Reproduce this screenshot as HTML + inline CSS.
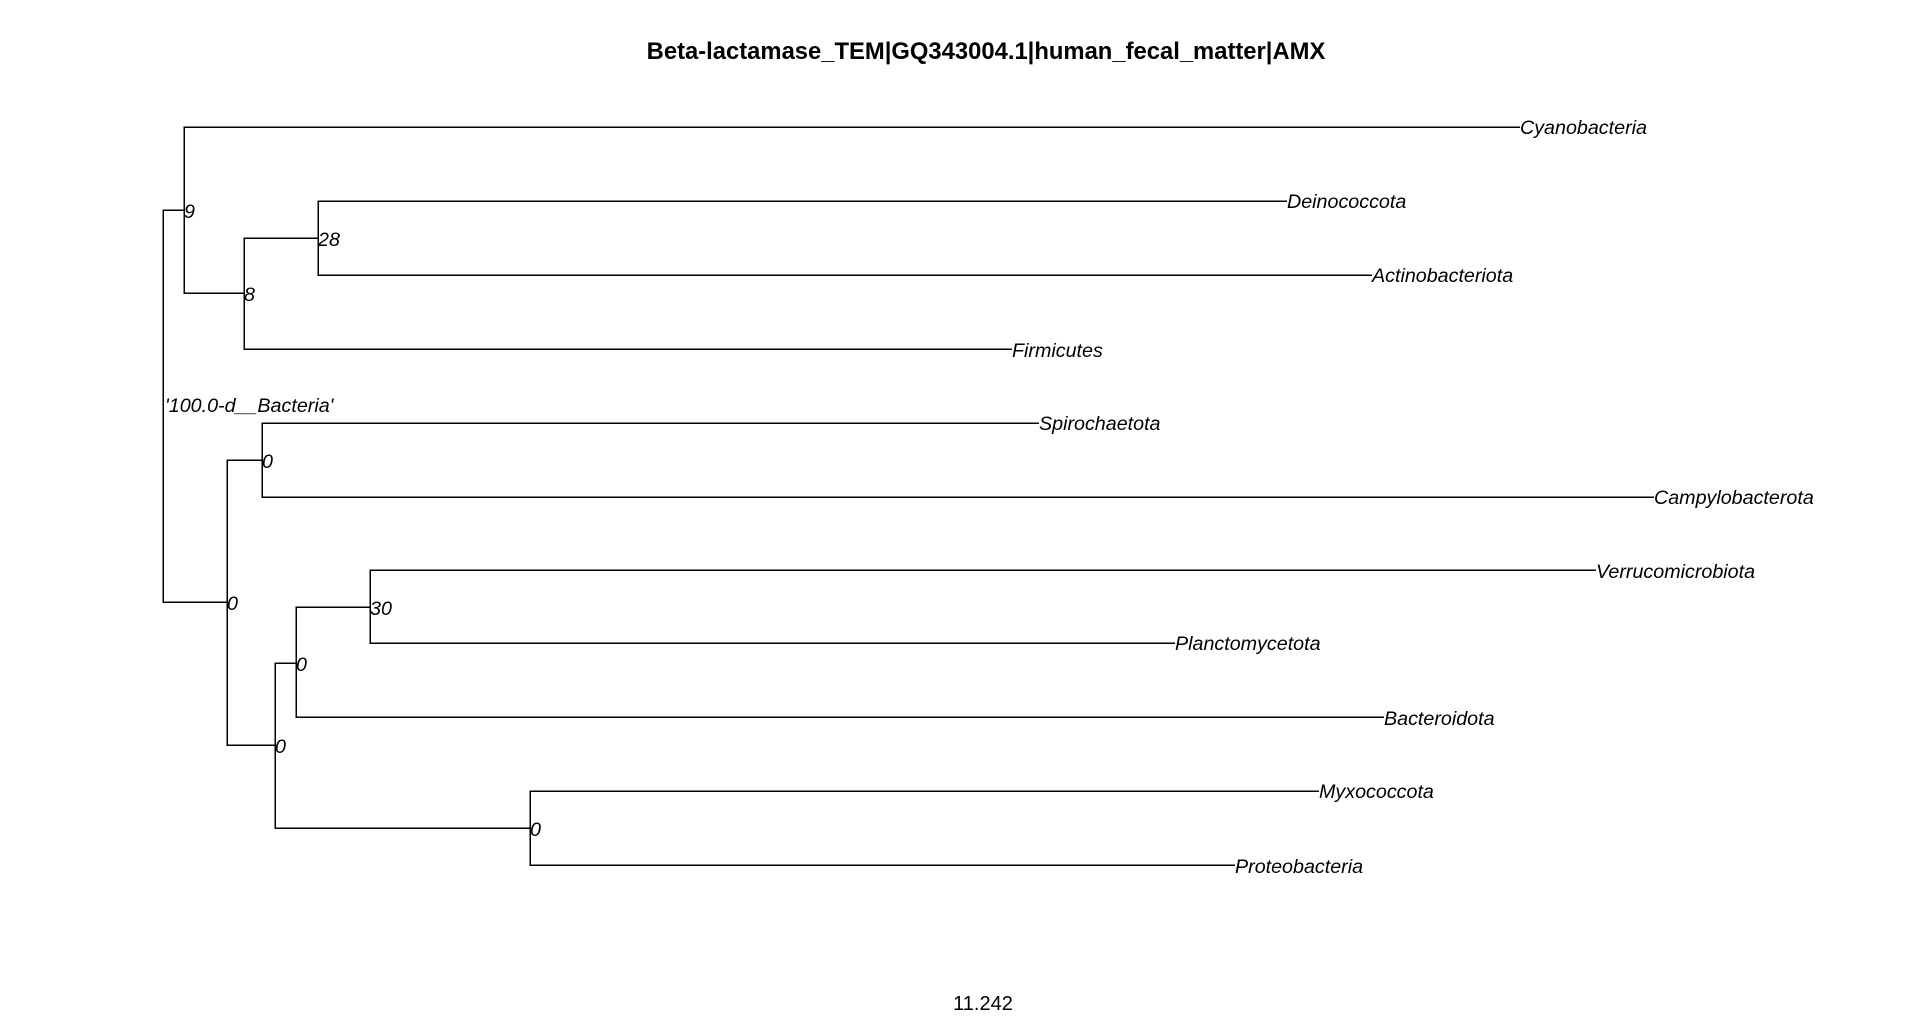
<!DOCTYPE html>
<html><head><style>
html,body{margin:0;padding:0;background:#fff;}
svg{display:block;}
text{font-family:"Liberation Sans",Arial,sans-serif;}
.l{font-size:19.7px;font-style:italic;}
</style></head><body>
<svg width="1920" height="1017" viewBox="0 0 1920 1017" xmlns="http://www.w3.org/2000/svg">
<text x="986" y="59" text-anchor="middle" font-size="23.8" font-weight="bold">Beta-lactamase_TEM|GQ343004.1|human_fecal_matter|AMX</text>
<g stroke="#000" stroke-width="1.5" fill="none" shape-rendering="crispEdges">
<path d="M184,210 H163 V602 H227"/>
<path d="M1520,127 H184 V293 H244"/>
<path d="M318,238 H244 V349 H1012"/>
<path d="M1287,201 H318 V275 H1372"/>
<path d="M262,460 H227 V745 H275"/>
<path d="M1039,423 H262 V497 H1654"/>
<path d="M296,663 H275 V828 H530"/>
<path d="M370,607 H296 V717 H1384"/>
<path d="M1596,570 H370 V643 H1175"/>
<path d="M1319,791 H530 V865 H1235"/>
</g>
<g>
<text class="l" x="1520" y="134">Cyanobacteria</text>
<text class="l" x="1287" y="208">Deinococcota</text>
<text class="l" x="1372" y="282">Actinobacteriota</text>
<text class="l" x="1012" y="357">Firmicutes</text>
<text class="l" x="1039" y="430">Spirochaetota</text>
<text class="l" x="1654" y="504">Campylobacterota</text>
<text class="l" x="1596" y="578">Verrucomicrobiota</text>
<text class="l" x="1175" y="650">Planctomycetota</text>
<text class="l" x="1384" y="725">Bacteroidota</text>
<text class="l" x="1319" y="798">Myxococcota</text>
<text class="l" x="1235" y="873">Proteobacteria</text>
<text class="l" x="184" y="218">9</text>
<text class="l" x="244" y="301">8</text>
<text class="l" x="318" y="246">28</text>
<text class="l" x="165" y="412">'100.0-d__Bacteria'</text>
<text class="l" x="227" y="610">0</text>
<text class="l" x="262" y="468">0</text>
<text class="l" x="275" y="753">0</text>
<text class="l" x="296" y="671">0</text>
<text class="l" x="370" y="615">30</text>
<text class="l" x="530" y="836">0</text>
</g>
<text x="983" y="1010" text-anchor="middle" font-size="20">11.242</text>
</svg>
</body></html>
